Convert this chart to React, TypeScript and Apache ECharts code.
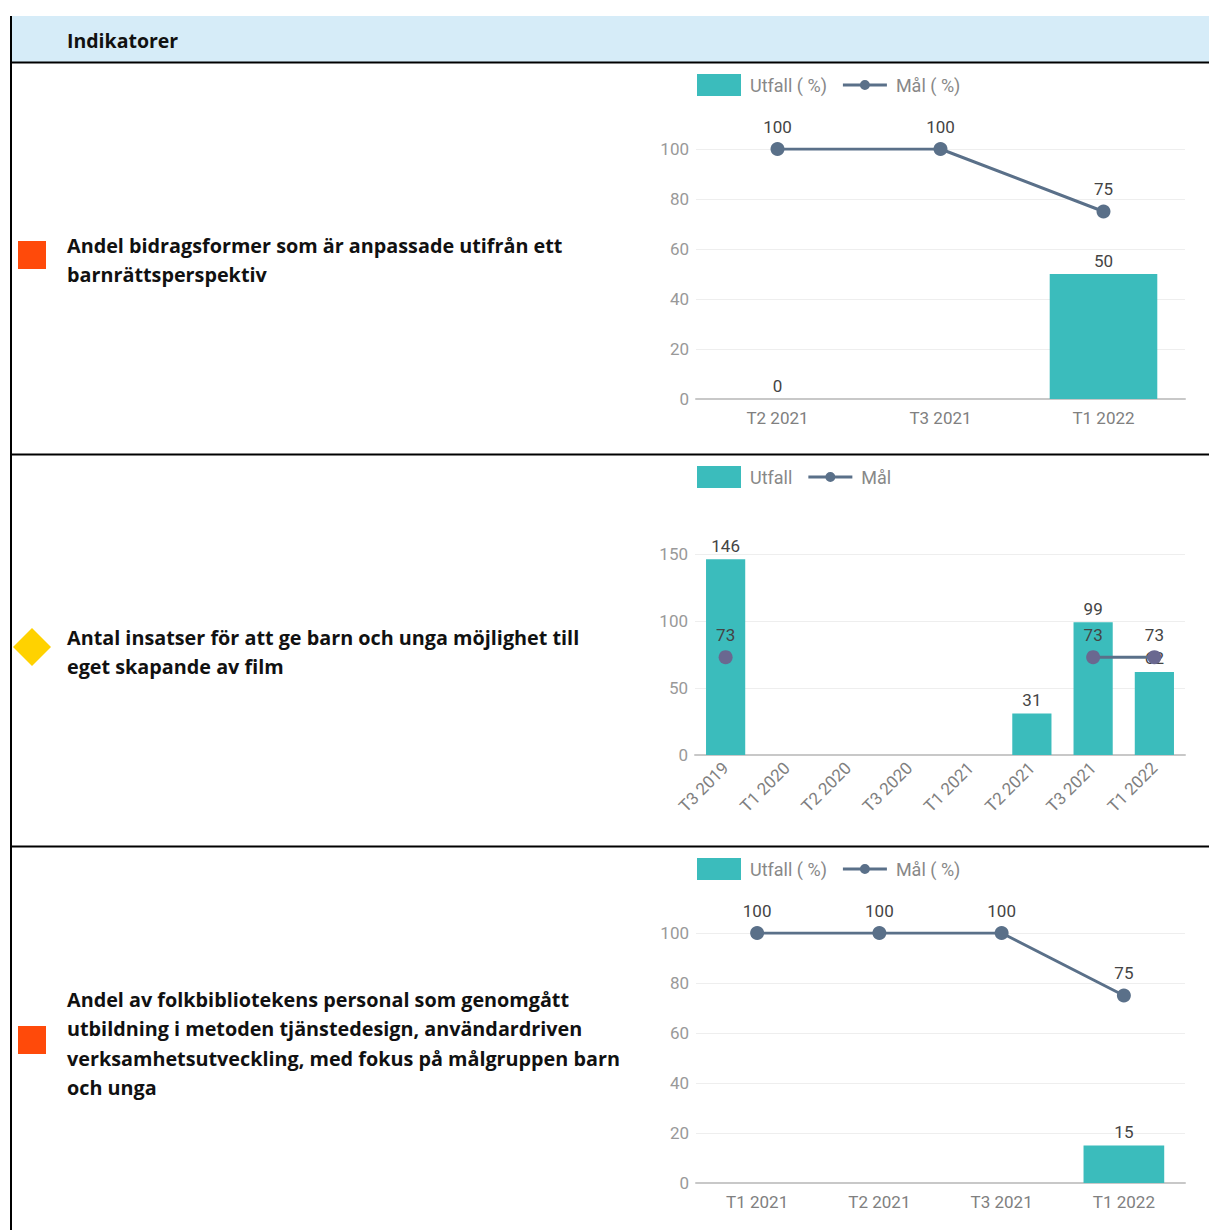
import React, { useEffect, useRef } from "react";
import * as echarts from "echarts";

const headerTitle = "Indikatorer";

const row1Lines = ["Andel bidragsformer som är anpassade utifrån ett", "barnrättsperspektiv"];
const row2Lines = ["Antal insatser för att ge barn och unga möjlighet till", "eget skapande av film"];
const row3Lines = [
  "Andel av folkbibliotekens personal som genomgått",
  "utbildning i metoden tjänstedesign, användardriven",
  "verksamhetsutveckling, med fokus på målgruppen barn",
  "och unga",
];

const cats1 = ["T2 2021", "T3 2021", "T1 2022"];
const utfall1 = [0, null, 50];
const mal1 = [100, 100, 75];

const cats2 = ["T3 2019", "T1 2020", "T2 2020", "T3 2020", "T1 2021", "T2 2021", "T3 2021", "T1 2022"];
const utfall2 = [146, null, null, null, null, 31, 99, 62];
const mal2 = [73, null, null, null, null, null, 73, 73];

const cats3 = ["T1 2021", "T2 2021", "T3 2021", "T1 2022"];
const utfall3 = [null, null, null, 15];
const mal3 = [100, 100, 100, 75];

const TEAL = "#3bbcbc";
const SLATE = "#5a7089";
const FONT = "Roboto, sans-serif";
const TFONT = "'Open Sans', sans-serif";
const LINE_ICON = "path://M0,9.5h44v3h-44z M17,11a5,5 0 1,1 10,0a5,5 0 1,1 -10,0z";

export default function App() {
  const ref = useRef<HTMLDivElement>(null);
  useEffect(() => {
    if (!ref.current) return;
    const chart = echarts.init(ref.current, null, { renderer: "svg" });

    const textEls: any[] = [];
    const addLines = (lines: string[], y0: number) => {
      lines.forEach((t, i) => {
        textEls.push({
          type: "text",
          x: 67,
          y: y0 + i * 29.5,
          style: { text: t, font: `bold 19.8px ${TFONT}`, fill: "#111", verticalAlign: "middle" },
        });
      });
    };
    addLines(row1Lines, 245);
    addLines(row2Lines, 637);
    addLines(row3Lines, 999);

    const graphic: any[] = [
      { type: "rect", shape: { x: 11, y: 16, width: 1198, height: 46 }, style: { fill: "#d6ecf8" } },
      { type: "line", shape: { x1: 11, y1: 16, x2: 11, y2: 1230 }, style: { stroke: "#000", lineWidth: 2 } },
      { type: "line", shape: { x1: 11, y1: 62.5, x2: 1209, y2: 62.5 }, style: { stroke: "#000", lineWidth: 2 } },
      { type: "line", shape: { x1: 11, y1: 454.5, x2: 1209, y2: 454.5 }, style: { stroke: "#000", lineWidth: 2 } },
      { type: "line", shape: { x1: 11, y1: 846.5, x2: 1209, y2: 846.5 }, style: { stroke: "#000", lineWidth: 2 } },
      {
        type: "text",
        x: 67,
        y: 40,
        style: { text: headerTitle, font: `bold 19.5px ${TFONT}`, fill: "#111", verticalAlign: "middle" },
      },
      { type: "rect", shape: { x: 18, y: 241, width: 28, height: 28 }, style: { fill: "#ff4a0a" } },
      { type: "polygon", shape: { points: [[32, 628], [51, 647], [32, 666], [13, 647]] }, style: { fill: "#ffd200" } },
      { type: "rect", shape: { x: 18, y: 1026, width: 28, height: 28 }, style: { fill: "#ff4a0a" } },
      ...textEls,
    ];

    const grids = [
      { left: 696, right: 24, top: 149, height: 250 },
      { left: 695, right: 24, top: 554, height: 201 },
      { left: 696, right: 24, top: 933, height: 250 },
    ];

    const xAxisBase = (gi: number, data: string[], rotate = 0) => ({
      type: "category",
      gridIndex: gi,
      data,
      axisTick: { show: false },
      axisLine: { lineStyle: { color: "#c8c8c8", width: 2 } },
      axisLabel: { color: "#808080", fontSize: 17, fontFamily: FONT, rotate, margin: 10, interval: 0 },
    });
    const yAxisBase = (gi: number, max: number, interval: number) => ({
      type: "value",
      gridIndex: gi,
      min: 0,
      max,
      interval,
      axisLine: { show: false },
      axisTick: { show: false },
      axisLabel: { color: "#999", fontSize: 17, fontFamily: FONT, margin: 7 },
      splitLine: { lineStyle: { color: "#eeeeee", width: 1 } },
    });

    const barSeries = (name: string, gi: number, data: any[], bw: string) => ({
      type: "bar",
      name,
      xAxisIndex: gi,
      yAxisIndex: gi,
      data,
      barWidth: bw,
      itemStyle: { color: TEAL },
      label: { show: true, position: "top", color: "#444", fontSize: 17, fontFamily: FONT, distance: 5 },
    });
    const lineSeries = (name: string, gi: number, data: any[], dotColor = SLATE) => ({
      type: "line",
      name,
      xAxisIndex: gi,
      yAxisIndex: gi,
      data,
      connectNulls: false,
      symbol: "circle",
      symbolSize: 14,
      lineStyle: { color: SLATE, width: 3 },
      itemStyle: { color: dotColor },
      label: { show: true, position: "top", color: "#444", fontSize: 17, fontFamily: FONT, distance: 7 },
      z: 3,
    });

    const legendBase = (top: number, names: string[]) => ({
      left: 692,
      top,
      data: [
        { name: names[0], icon: "rect" },
        { name: names[1], icon: LINE_ICON, itemStyle: { color: SLATE } },
      ],
      itemWidth: 44,
      itemHeight: 22,
      itemGap: 16,
      textStyle: { color: "#888", fontSize: 18, fontFamily: FONT, padding: [0, 0, 0, 4] },
    });

    chart.setOption({
      animation: false,
      backgroundColor: "#fff",
      graphic,
      legend: [
        { ...legendBase(69, ["Utfall ( %)", "Mål ( %)"]) },
        { ...legendBase(461, ["Utfall", "Mål"]) },
        { ...legendBase(853, ["Utfall ( %)", "Mål ( %)"]) },
      ],
      grid: grids,
      xAxis: [xAxisBase(0, cats1), xAxisBase(1, cats2, 45), xAxisBase(2, cats3)],
      yAxis: [yAxisBase(0, 100, 20), yAxisBase(1, 150, 50), yAxisBase(2, 100, 20)],
      series: [
        barSeries("Utfall ( %)", 0, utfall1, "66%"),
        lineSeries("Mål ( %)", 0, mal1),
        barSeries("Utfall", 1, utfall2, "64%"),
        lineSeries("Mål", 1, mal2, "#6a6890"),
        barSeries("Utfall ( %)", 2, utfall3, "66%"),
        lineSeries("Mål ( %)", 2, mal3),
      ],
    });
    return () => chart.dispose();
  }, []);
  return (
    <div
      ref={ref}
      style={{ position: "fixed", left: 0, top: 0, width: 1209, height: 1230, background: "#fff" }}
    />
  );
}
